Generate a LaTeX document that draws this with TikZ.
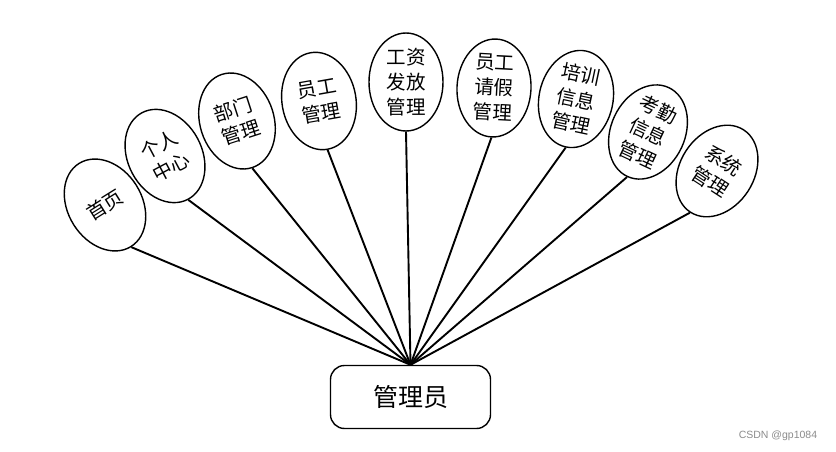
\documentclass[tikz,border=0pt]{standalone}
\usepackage{fontspec}
\setmainfont{Liberation Sans}
\newfontfamily\cjk{Noto Sans CJK SC}
\usetikzlibrary{shapes.geometric}
\begin{document}
\begin{tikzpicture}[x=1pt,y=-1pt,
  bubble/.style={ellipse, draw, line width=1.4pt, minimum width=74pt, minimum height=98pt,
    inner sep=0pt, align=center, font=\cjk\fontsize{19.5}{25}\selectfont},
  rootbox/.style={draw, rounded corners=14pt, line width=1.4pt, minimum width=160pt,
    minimum height=63pt, font=\cjk\fontsize{25}{28}\selectfont},
  link/.style={line width=1.9pt},
  wmark/.style={font=\fontsize{10.5}{12}\selectfont, text=black!45}]
\fill[white] (0,0) rectangle (836,452);
\useasboundingbox (0,0) rectangle (836,452);

\node[rootbox] (admin) at (410.5,397) {管理员};

\node[bubble, rotate=32]  (e1) at (105,205) {首页};
\node[bubble, rotate=28]  (e2) at (165,156) {个人\\中心};
\node[bubble, rotate=18]  (e3) at (237,121) {部门\\管理};
\node[bubble, rotate=10]  (e4) at (319,101) {员工\\管理};
\node[bubble]             (e5) at (406,82)  {工资\\发放\\管理};
\node[bubble, rotate=-3]  (e6) at (494,88)  {员工\\请假\\管理};
\node[bubble, rotate=-12] (e7) at (576,99)  {培训\\信息\\管理};
\node[bubble, rotate=-25] (e8) at (648,132) {考勤\\信息\\管理};
\node[bubble, rotate=-33] (e9) at (717,171) {系统\\管理};

\foreach \i in {1,...,9} {
  \draw[link] (e\i.south) -- (admin.north);
}

\node[wmark] (wm) at (778,436) {CSDN @gp1084};
\end{tikzpicture}
\end{document}
